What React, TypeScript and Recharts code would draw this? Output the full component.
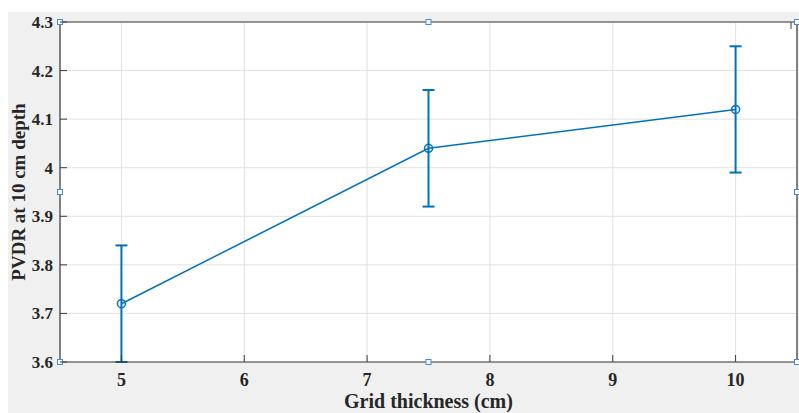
import {
  LineChart,
  Line,
  XAxis,
  YAxis,
  CartesianGrid,
  ErrorBar,
  ReferenceDot,
} from "recharts";

const thickness = [5, 7.5, 10];
const pvdr = [3.72, 4.04, 4.12];
const pvdrErr = [0.12, 0.12, 0.13];

const xTicks = [5, 6, 7, 8, 9, 10];
const yTicks = [3.6, 3.7, 3.8, 3.9, 4, 4.1, 4.2, 4.3];

// the little edit-mode handles sitting on the axes box
const handleX = [4.5, 7.5, 10.5, 4.5, 10.5, 4.5, 7.5, 10.5];
const handleY = [4.3, 4.3, 4.3, 3.95, 3.95, 3.6, 3.6, 3.6];

const data = thickness.map((x, i) => ({ x, y: pvdr[i], err: pvdrErr[i] }));
const handles = handleX.map((x, i) => ({ x, y: handleY[i] }));

const BLUE = "#0072BD";
const AXIS = "#3a3a3a";
const FONT = '"Liberation Serif", "Times New Roman", serif';
const TICK_LEN = 7;

const BottomTick = (props: any) => {
  const { x, y, payload } = props;
  return (
    <g>
      <line x1={x} y1={y} x2={x} y2={y - TICK_LEN} stroke={AXIS} />
      <text x={x} y={y + 24} textAnchor="middle" fontFamily={FONT} fontWeight="bold" fontSize={18} fill="#262626">
        {payload.value}
      </text>
    </g>
  );
};

const TopTick = (props: any) => {
  const { x, y } = props;
  return <line x1={x} y1={y} x2={x} y2={y + TICK_LEN} stroke={AXIS} />;
};

const LeftTick = (props: any) => {
  const { x, y, payload } = props;
  return (
    <g>
      <line x1={x} y1={y} x2={x + TICK_LEN} y2={y} stroke={AXIS} />
      <text x={x - 7} y={y + 6} textAnchor="end" fontFamily={FONT} fontWeight="bold" fontSize={17} fill="#262626">
        {payload.value}
      </text>
    </g>
  );
};

const RightTick = (props: any) => {
  const { x, y } = props;
  return <line x1={x} y1={y} x2={x - TICK_LEN} y2={y} stroke={AXIS} />;
};

const Handle = (props: any) => (
  <rect x={props.cx - 2.5} y={props.cy - 2.5} width={5} height={5} fill="#ffffff" stroke="#3d8fdc" strokeWidth={1} />
);

export default function App() {
  return (
    <div style={{ position: "absolute", left: 8, top: 12, width: 791, height: 401, background: "#f0f0f0" }}>
      <LineChart width={791} height={401} data={data} margin={{ top: 9, right: 1, bottom: 0, left: 0 }}>
        <CartesianGrid stroke="#e2e2e2" strokeWidth={1} fill="#ffffff" fillOpacity={1} xAxisId="b" yAxisId="l" />
        <XAxis
          xAxisId="b"
          dataKey="x"
          type="number"
          domain={[4.5, 10.5]}
          ticks={xTicks}
          height={51}
          tickSize={0}
          tickMargin={0}
          tickLine={false}
          axisLine={{ stroke: AXIS, strokeWidth: 1.2 }}
          tick={<BottomTick />}
          label={{
            content: (p: any) => (
              <text
                x={p.viewBox.x + p.viewBox.width / 2}
                y={p.viewBox.y + 46}
                textAnchor="middle"
                fontFamily={FONT}
                fontWeight="bold"
                fontSize={20}
                fill="#262626"
              >
                Grid thickness (cm)
              </text>
            ),
          }}
        />
        <XAxis
          xAxisId="t"
          orientation="top"
          type="number"
          domain={[4.5, 10.5]}
          ticks={xTicks}
          height={1}
          tickSize={0}
          tickMargin={0}
          tickLine={false}
          axisLine={{ stroke: AXIS, strokeWidth: 1.2 }}
          tick={<TopTick />}
        />
        <YAxis
          yAxisId="l"
          type="number"
          domain={[3.6, 4.3]}
          ticks={yTicks}
          width={52}
          tickSize={0}
          tickMargin={0}
          tickLine={false}
          axisLine={{ stroke: AXIS, strokeWidth: 1.2 }}
          tick={<LeftTick />}
          label={{
            content: (p: any) => {
              const cx = p.viewBox.x + 17;
              const cy = p.viewBox.y + p.viewBox.height / 2;
              return (
                <text
                  x={cx}
                  y={cy}
                  transform={`rotate(-90 ${cx} ${cy})`}
                  textAnchor="middle"
                  fontFamily={FONT}
                  fontWeight="bold"
                  fontSize={19}
                  fill="#262626"
                >
                  PVDR at 10 cm depth
                </text>
              );
            },
          }}
        />
        <YAxis
          yAxisId="r"
          orientation="right"
          type="number"
          domain={[3.6, 4.3]}
          ticks={yTicks}
          width={1}
          tickSize={0}
          tickMargin={0}
          tickLine={false}
          axisLine={{ stroke: AXIS, strokeWidth: 1.2 }}
          tick={<RightTick />}
        />
        <Line
          xAxisId="b"
          yAxisId="l"
          dataKey="y"
          stroke={BLUE}
          strokeWidth={1.5}
          dot={{ r: 4, stroke: BLUE, strokeWidth: 1.5, fill: "none" }}
          activeDot={false}
          isAnimationActive={false}
        >
          <ErrorBar dataKey="err" direction="y" width={6} stroke={BLUE} strokeWidth={2} isAnimationActive={false} />
        </Line>
        {handles.map((h, i) => (
          <ReferenceDot
            key={i}
            xAxisId="b"
            yAxisId="l"
            x={h.x}
            y={h.y}
            ifOverflow="visible"
            shape={<Handle />}
          />
        ))}
      </LineChart>
    </div>
  );
}
